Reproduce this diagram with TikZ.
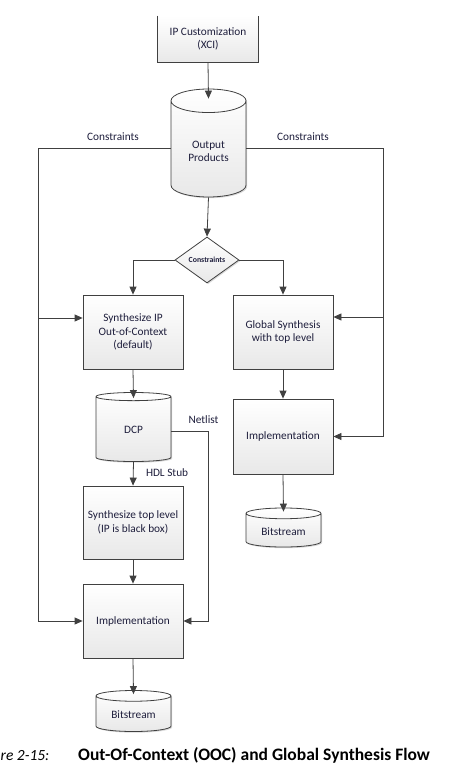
\documentclass[tikz,border=0pt]{standalone}
\usepackage{fontspec}
\setmainfont{Carlito}
\usepackage{tikz}
\usetikzlibrary{positioning,arrows.meta,shapes.geometric,shadows,calc}
\definecolor{lineclr}{HTML}{404040}
\definecolor{txtclr}{HTML}{1E1E3C}

\begin{document}
\begin{tikzpicture}[
  x=1pt, y=-1pt,
  >={Triangle[length=8pt,width=7pt]},
  shad/.style={drop shadow={shadow xshift=1.2pt, shadow yshift=-1.2pt, opacity=0.3}},
  proc/.style={draw=lineclr, line width=0.8pt, top color=white, bottom color=black!9, shad, minimum width=100pt, minimum height=74pt, align=center, font=\fontsize{11.3}{13.5}\selectfont, text=txtclr},
  store/.style={cylinder, shape border rotate=90, draw=lineclr, line width=0.8pt, top color=white, bottom color=black!9, shad, minimum width=75pt, align=center, font=\fontsize{11.3}{13.5}\selectfont, text=txtclr, anchor=shape center},
  decision/.style={diamond, aspect=1.4, draw=lineclr, line width=0.8pt, top color=white, bottom color=black!9, shad, minimum width=64pt, minimum height=46pt, inner sep=0pt, font=\fontsize{7.8}{8}\selectfont\bfseries, text=txtclr},
  lbl/.style={font=\fontsize{11.3}{13}\selectfont, text=txtclr},
  arr/.style={->, line width=0.8pt, draw=lineclr},
  ln/.style={line width=0.8pt, draw=lineclr},
]
\useasboundingbox (0,0) rectangle (470,767);

% IP customization (top edge cut off)
\node[proc, draw=none, minimum height=46pt] (ipc) at (208,39) {IP Customization\\(XCI)};
\draw[ln] (ipc.north west) |- (ipc.south east) -- (ipc.north east);

% Output products and constraints switch
\node[store, minimum height=108pt, aspect=0.5] (opd) at (208.5,143) {Output\\Products};
\node[decision] (cns) at (207,260) {Constraints};

% OOC flow
\node[proc] (sip) at (133,332) {Synthesize IP\\Out-of-Context\\(default)};
\node[store, minimum height=69pt, aspect=0.32] (dcp) at (133.5,427) {DCP};
\node[proc, minimum height=73pt] (stl) at (133,522.5) {Synthesize top level\\(IP is black box)};
\node[proc] (impl) at (133,621) {Implementation};
\node[store, minimum height=41pt, aspect=0.21] (bitl) at (133.5,711) {Bitstream};

% Global flow
\node[proc] (gsyn) at (283,332) {Global Synthesis\\with top level};
\node[proc, minimum height=75pt] (impr) at (283,436.5) {Implementation};
\node[store, minimum height=39pt, aspect=0.21] (bitr) at (283.5,527.5) {Bitstream};

% Rails
\coordinate (lrail) at (38,148);
\coordinate (rrail) at (383,148);
\coordinate (sipin) at ([yshift=14pt]sip.west);
\coordinate (gsynin) at ([yshift=15pt]gsyn.east);
\coordinate (netl) at (208,431);

% Arrows down the middle
\draw[arr] (ipc.south) -- ([yshift=-10pt]opd.north);
\draw[arr] (opd.south) -- (cns.north);
\draw[arr] (cns.west) -| (sip.north);
\draw[arr] (cns.east) -| (gsyn.north);

% OOC arrows
\draw[arr] (sip.south) -- ([yshift=-6pt]dcp.north);
\draw[arr] (dcp.south) -- (stl.north) node[lbl, anchor=west, pos=0.45, xshift=9pt] (hdl) {HDL Stub};
\draw[arr] (stl.south) -- (impl.north);
\draw[arr] (impl.south) -- ([yshift=-4pt]bitl.north);
\draw[arr] (dcp.east |- netl) -- (netl) |- (impl.east);
\node[lbl, anchor=west] (nlbl) at (185,420) {Netlist};

% Global arrows
\draw[arr] (gsyn.south) -- (impr.north);
\draw[arr] (impr.south) -- ([yshift=-4pt]bitr.north);

% Constraints rails
\draw[arr] (opd.west |- lrail) -- (lrail) |- (impl.west);
\draw[arr] (lrail |- sipin) -- (sipin);
\draw[arr] (opd.east |- rrail) -- (rrail) |- (impr.east);
\draw[arr] (rrail |- gsynin) -- (gsynin);
\node[lbl] (lcns) at (113,137) {Constraints};
\node[lbl] (rcns) at (303,137) {Constraints};

% Caption
\node[anchor=base west, inner sep=0pt, font=\fontsize{15.5}{17}\selectfont\itshape] (fig) at (0.5,760) {re 2-15:};
\node[anchor=base west, inner sep=0pt, font=\fontsize{17.5}{19}\selectfont\bfseries] (cap) at (78,760) {Out-Of-Context (OOC) and Global Synthesis Flow};
\end{tikzpicture}
\end{document}
